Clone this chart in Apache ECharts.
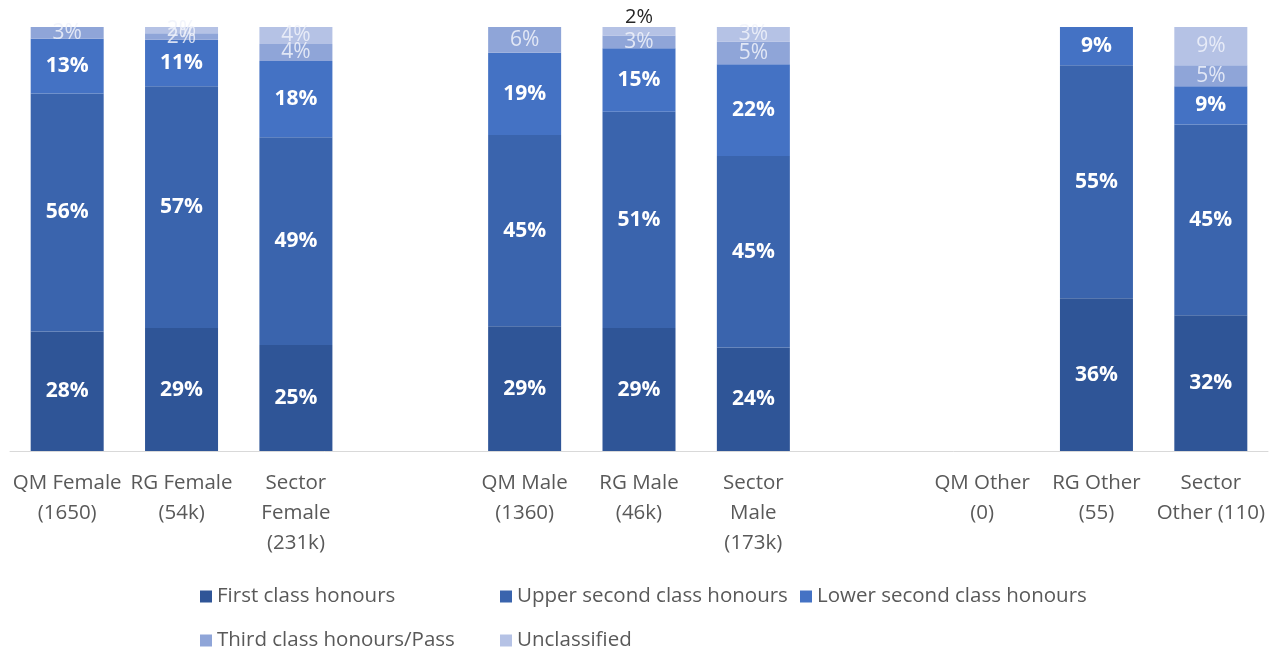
<!DOCTYPE html>
<html>
<head>
<meta charset="utf-8">
<script src="https://cdn.jsdelivr.net/npm/echarts@6/dist/echarts.min.js"></script>
<style>
  html, body { margin: 0; padding: 0; background: #fff; }
  #chart { width: 1287px; height: 653px; }
</style>
</head>
<body>
<div id="chart"></div>
<script>
const categories = [
  'QM Female\n(1650)', 'RG Female\n(54k)', 'Sector\nFemale\n(231k)', ' ',
  'QM Male\n(1360)', 'RG Male\n(46k)', 'Sector\nMale\n(173k)', '  ',
  'QM Other\n(0)', 'RG Other\n(55)', 'Sector\nOther (110)'
]
const seriesNames = [
  'First class honours', 'Upper second class honours', 'Lower second class honours',
  'Third class honours/Pass', 'Unclassified'
]
// percentages per bar
const firstClass = [28.2, 29, 25, 0, 29.4, 29, 24.4, 0, 0, 36, 32]
const upperSecond = [56.1, 57, 49, 0, 45.1, 51, 45.2, 0, 0, 55, 45]
const lowerSecond = [12.9, 11, 18, 0, 19.4, 15, 21.6, 0, 0, 9, 9]
const thirdClass = [2.8, 1.5, 4, 0, 6.1, 3, 5.4, 0, 0, 0, 5]
const unclassified = [0, 1.5, 4, 0, 0, 2, 3.4, 0, 0, 0, 9]

const colors = ['#2F5597', '#3A64AD', '#4472C4', '#8FA5D8', '#B5C2E5']
const values = [firstClass, upperSecond, lowerSecond, thirdClass, unclassified]

const myChart = echarts.init(document.getElementById('chart'))

const fontFamily = 'Open Sans'

const series = seriesNames.map((name, i) => {
  const light = i >= 3
  return {
    name: name,
    type: 'bar',
    stack: 'total',
    barWidth: 73,
    itemStyle: { color: colors[i] },
    label: {
      show: true,
      position: 'inside',
      color: light ? 'rgba(240,242,250,0.85)' : '#FFFFFF',
      fontWeight: light ? 'normal' : 'bold',
      fontSize: 21,
      fontFamily: fontFamily,
      formatter: p => p.value > 0 ? Math.round(p.value) + '%' : ''
    },
    data: values[i].map((v, j) => {
      // RG Male unclassified label sits above the bar
      if (i === 4 && j === 5) {
        return {
          value: v,
          label: { position: 'top', distance: 0, color: '#262626', fontWeight: 'normal', fontSize: 20 }
        }
      }
      return v
    })
  }
})

const legendPos = [
  [200, 586], [500, 586], [800, 586],
  [200, 630], [500, 630]
]

myChart.setOption({
  animation: false,
  grid: {
    top: 27,
    left: 10,
    right: 19,
    bottom: 202
  },
  legend: seriesNames.map((name, i) => ({
    data: [name],
    left: legendPos[i][0],
    top: legendPos[i][1],
    padding: 0,
    icon: 'rect',
    itemWidth: 12,
    itemHeight: 12,
    itemGap: 6,
    textStyle: { color: '#595959', fontSize: 20.5, fontFamily: fontFamily },
    selectedMode: false
  })),
  xAxis: {
    type: 'category',
    data: categories,
    axisLine: { lineStyle: { color: '#D9D9D9' } },
    axisTick: { show: false },
    axisLabel: {
      interval: 0,
      color: '#595959',
      fontSize: 20.5,
      fontFamily: fontFamily,
      lineHeight: 30,
      margin: 17
    }
  },
  yAxis: {
    type: 'value',
    min: 0,
    max: 100,
    show: false
  },
  series: series
})
</script>
</body>
</html>
